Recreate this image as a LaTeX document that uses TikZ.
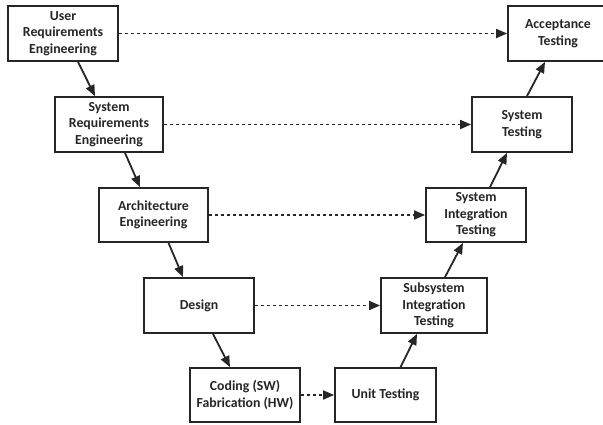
\documentclass[tikz,border=0pt]{standalone}
\usepackage{fontspec}
\setmainfont{Carlito}
\usetikzlibrary{arrows.meta}
\begin{document}
\begin{tikzpicture}[x=1pt,y=-1pt,
  box/.style={draw=black!85, line width=1.8pt, fill=white, align=center, inner sep=0pt,
    font=\fontsize{13.8}{16.6}\selectfont\bfseries, text=black!85},
  flow/.style={line width=1.8pt, draw=black!85, -{Triangle[length=11pt,width=9pt]}},
  trace/.style={line width=1.8pt, draw=black!85, dash pattern=on 3.5pt off 2.5pt, -{Triangle[length=11pt,width=9pt]}}]
\useasboundingbox (0,0) rectangle (603,425);
\clip (0,0) rectangle (603,425);
\node[box, minimum width=110pt, minimum height=55pt] (ure) at (63,33.5) {User\\Requirements\\Engineering};
\node[box, minimum width=108pt, minimum height=55pt] (sre) at (109,124.5) {System\\Requirements\\Engineering};
\node[box, minimum width=109pt, minimum height=54pt] (ae) at (153.5,215) {Architecture\\Engineering};
\node[box, minimum width=110pt, minimum height=55pt] (des) at (199,305.5) {Design};
\node[box, minimum width=110pt, minimum height=54pt] (cod) at (245,395) {Coding (SW)\\Fabrication (HW)};
\node[box, minimum width=101pt, minimum height=54pt] (ut) at (385.5,395) {Unit Testing};
\node[box, minimum width=106pt, minimum height=55pt] (sit) at (434,305.5) {Subsystem\\Integration\\Testing};
\node[box, minimum width=100pt, minimum height=54pt] (syit) at (476,215) {System\\Integration\\Testing};
\node[box, minimum width=100pt, minimum height=55pt] (st) at (522,124.5) {System\\Testing};
\node[box, minimum width=100pt, minimum height=55pt] (at) at (558,33.5) {Acceptance\\Testing};
% solid flow
\draw[flow] ([xshift=15pt]ure.south) -- ([xshift=-14pt]sre.north);
\draw[flow] ([xshift=16pt]sre.south) -- ([xshift=-13.5pt]ae.north);
\draw[flow] ([xshift=15pt]ae.south) -- ([xshift=-16pt]des.north);
\draw[flow] ([xshift=14pt]des.south) -- ([xshift=-15pt]cod.north);
\draw[flow] ([xshift=15pt]ut.north) -- ([xshift=-17pt]sit.south);
\draw[flow] ([xshift=11pt]sit.north) -- ([xshift=-13pt]syit.south);
\draw[flow] ([xshift=14pt]syit.north) -- ([xshift=-15pt]st.south);
\draw[flow] ([xshift=5pt]st.north) -- ([xshift=-13pt]at.south);
% dashed traces
\draw[trace] (ure.east) -- (at.west);
\draw[trace] (sre.east) -- (st.west);
\draw[trace] (ae.east) -- (syit.west);
\draw[trace] (des.east) -- (sit.west);
\draw[trace] (cod.east) -- (ut.west);
\end{tikzpicture}
\end{document}
